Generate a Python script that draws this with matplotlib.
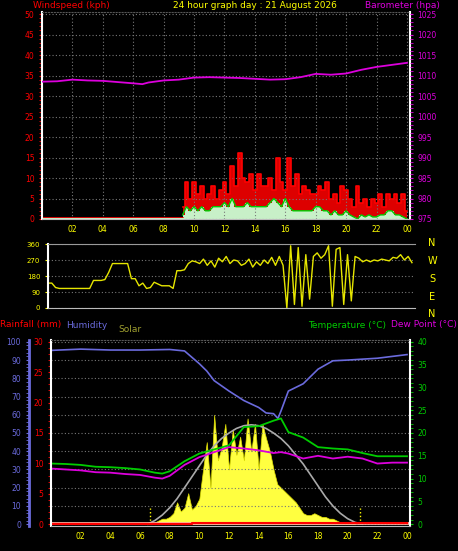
import numpy as np
import matplotlib
matplotlib.use("Agg")
import matplotlib.pyplot as plt
from matplotlib.ticker import MultipleLocator

# ---------------- data ----------------
hour_ticks = [2, 4, 6, 8, 10, 12, 14, 16, 18, 20, 22, 24]
hour_labels = ["02", "04", "06", "08", "10", "12", "14", "16", "18", "20", "22", "00"]

baro_t = [0, 1, 2, 3, 4, 5, 6, 6.6, 7, 8, 9, 10, 11, 12, 13, 14, 15, 16, 17, 18, 19, 20, 21, 22, 23, 24]
baro_v = [1008.5, 1008.6, 1009.0, 1008.8, 1008.7, 1008.4, 1008.1, 1007.9, 1008.3, 1008.8, 1009.0,
          1009.5, 1009.6, 1009.5, 1009.4, 1009.2, 1009.0, 1009.1, 1009.6, 1010.4, 1010.2, 1010.5,
          1011.4, 1012.1, 1012.6, 1013.1]

gust_start = 9.25
wind_gust = [3, 9, 5, 9, 6, 8, 5, 6, 8, 5, 7, 9, 6, 13, 8, 16, 10, 9, 11, 7, 11, 8, 8, 10, 7, 15,
             9, 7, 15, 8, 11, 6, 8, 7, 6, 6, 8, 7, 9, 5, 6, 4, 8, 7, 5, 3, 8, 4, 5, 3, 5, 4, 6, 3,
             6, 5, 6, 4, 6, 2]
wind_avg = [1, 3, 2, 3, 2, 3, 2, 2, 3, 3, 3, 4, 3, 5, 3, 3, 3, 4, 3, 3, 3, 3, 3, 4, 5, 4, 3, 5,
            3, 2, 2, 2, 2, 2, 2, 3, 3, 2, 2, 1, 2, 1, 1, 2, 1, 0.5, 0, 1, 0.5, 1, 0.5, 0.5, 1, 1,
            2, 2, 1, 1, 0.5, 0]

dir_v = [140, 140, 115, 110, 110, 110, 110, 110, 110, 110, 110, 110, 155, 155, 155, 160, 200, 250,
         250, 250, 250, 250, 165, 165, 125, 140, 110, 115, 145, 135, 125, 125, 125, 110, 210, 210,
         215, 250, 265, 260, 250, 275, 240, 265, 230, 280, 260, 290, 250, 270, 265, 240, 250, 275,
         230, 260, 240, 270, 250, 285, 240, 290, 240, 0, 350, 20, 340, 10, 300, 50, 290, 310, 280,
         300, 350, 10, 330, 340, 20, 300, 40, 290, 280, 260, 270, 260, 270, 265, 275, 270, 265,
         285, 280, 300, 270, 290, 255]

hum_t = [0, 2, 4, 6, 8, 9, 10, 10.5, 11, 12, 13, 14, 14.5, 15, 15.3, 15.5, 16, 17, 18, 19, 20, 22, 24]
hum_v = [95.3, 96, 95.5, 95.5, 95.8, 95, 88, 84, 78.7, 73, 67.8, 64, 61, 60.6, 58, 62, 73, 77,
         85, 89.6, 90, 91, 93]

temp_t = [0, 1, 2, 3, 4, 5, 6, 7, 7.5, 8, 9, 10, 11, 12, 13, 14, 15, 15.5, 16, 17, 18, 19, 20, 21, 22, 23, 24]
temp_v = [13.3, 13.2, 13, 12.6, 12.5, 12.3, 12.0, 11.3, 11.1, 11.6, 13.8, 15.5, 16.4, 17.3, 21.3,
          21.5, 22.7, 23.2, 20.2, 19.0, 16.9, 16.6, 16.4, 15.6, 14.9, 14.9, 14.9]
dew_v = [12.2, 12.0, 11.8, 11.4, 11.3, 11.0, 10.8, 10.2, 10.0, 10.6, 13.0, 14.7, 15.8, 16.9, 16.6,
         16.2, 15.6, 15.8, 15.5, 14.4, 15.0, 14.4, 14.8, 14.4, 13.3, 13.5, 13.5]

rain_t = [0, 9.5, 9.5, 24]
rain_v = [0, 0, 0.2, 0.2]

solar_start = 6.5
solar_v = [0, 0, 1, 2, 3, 3, 4, 6, 12, 7, 9, 17, 8, 10, 14, 30, 45, 20, 60, 35, 42, 55, 30, 52,
           38, 48, 35, 58, 40, 55, 30, 55, 47, 40, 30, 22, 20, 18, 16, 14, 12, 9, 6, 5, 5, 6, 5,
           4, 4, 3, 3, 2, 1, 1, 0.5, 0, 0]
clear_t = [6.5, 7, 7.5, 8, 8.5, 9, 9.5, 10, 10.5, 11, 11.5, 12, 12.5, 13, 13.5, 14, 14.5, 15, 15.5,
           16, 16.5, 17, 17.5, 18, 18.5, 19, 19.5, 20, 20.5, 21]
clear_v = [0, 2, 5, 9, 14, 20, 26, 32, 38, 43, 47, 50, 52.5, 54, 54.5, 54, 52.5, 50, 47, 43, 38,
           33, 27, 21, 15, 10, 6, 3, 1, 0]
sunrise, sunset = 6.7, 20.8

# ---------------- styling ----------------
W, H = 458, 551
fig = plt.figure(figsize=(W / 100, H / 100), dpi=100, facecolor="black")
fs = 5.5
tfs = 6.5
RED, MAG, YEL, GRN, BLU = "#ff0000", "#dd00dd", "#ffff00", "#00cc00", "#6b6bdd"


def rect(l, t, r, b):
    return [l / W, 1 - b / H, (r - l) / W, (b - t) / H]


def style(ax):
    ax.set_facecolor("black")
    ax.grid(True, color="#777777", linestyle=(0, (1, 2)), linewidth=0.8)
    for s in ax.spines.values():
        s.set_color("#bbbbbb")
    ax.spines["top"].set_color("#555555")
    ax.spines["top"].set_linestyle(":")


# ---- top panel ----
ax1 = fig.add_axes(rect(42, 12, 410, 219))
style(ax1)
ax1.set_xlim(0, 24.2)
ax1.set_ylim(0, 50.5)
ax1.yaxis.set_major_locator(MultipleLocator(5))
ax1.yaxis.set_minor_locator(MultipleLocator(1))
ax1.set_xticks(hour_ticks)
ax1.set_xticklabels(hour_labels)
ax1.tick_params(axis="x", colors=YEL, labelsize=fs, length=0, pad=4)
ax1.tick_params(axis="y", which="both", colors=RED, labelsize=fs, length=2, direction="out")
ax1.spines["left"].set_color("white")
ax1.spines["left"].set_linewidth(1.5)
ax1.spines["right"].set_color("white")
ax1.spines["right"].set_linewidth(1.5)
gt = gust_start + 0.25 * np.arange(len(wind_gust))
ax1.plot([0, gust_start], [0.3, 0.3], color=RED, lw=1.2)
ax1.fill_between(gt, wind_avg, wind_gust, step="mid", color="#dd0000", lw=0)
ax1.fill_between(gt, 0, wind_avg, step="mid", color="#c8f0c8", lw=0)
ax1.step(gt, wind_gust, where="mid", color=RED, lw=1.2)
ax1.plot(gt, wind_avg, color=GRN, lw=1.0)
ax1.plot([0, gust_start], [0, 0], color="#c8f0c8", lw=1.5)
axb = ax1.twinx()
axb.set_ylim(975, 1025.5)
axb.yaxis.set_major_locator(MultipleLocator(5))
axb.yaxis.set_minor_locator(MultipleLocator(1))
axb.tick_params(axis="y", which="both", colors=MAG, labelsize=fs, length=2)
for s in axb.spines.values():
    s.set_visible(False)
axb.plot(baro_t, baro_v, color=MAG, lw=1.3)

fig.text(33 / W, 1 - 5 / H, "Windspeed (kph)", color=RED, fontsize=tfs, va="center")
fig.text(255 / W, 1 - 5 / H, "24 hour graph day : 21 August 2026", color=YEL, fontsize=tfs,
         va="center", ha="center")
fig.text(440 / W, 1 - 5 / H, "Barometer (hpa)", color=MAG, fontsize=tfs, va="center", ha="right")

# ---- direction panel ----
ax2 = fig.add_axes(rect(48, 244, 415, 308))
style(ax2)
ax2.grid(False)
ax2.yaxis.grid(True, color="#777777", linestyle=(0, (1, 2)), linewidth=0.8)
ax2.set_xlim(0, 24.2)
ax2.set_ylim(0, 360)
ax2.set_yticks([0, 90, 180, 270, 360])
ax2.set_xticks([])
ax2.tick_params(axis="y", colors=YEL, labelsize=5, length=2)
ax2.spines["top"].set_color("#999999")
ax2.spines["top"].set_linestyle("-")
ax2.spines["right"].set_visible(False)
ax2.spines["left"].set_color("white")
ax2.spines["left"].set_linewidth(1.5)
ax2.plot(0.25 * np.arange(len(dir_v)), dir_v, color="#e6e600", lw=1.0)
for lab, yy in zip(["N", "W", "S", "E", "N"], [243, 261, 279, 297, 314]):
    fig.text(432 / W, 1 - yy / H, lab, color=YEL, fontsize=7, ha="center", va="center")

# ---- bottom panel ----
ax3 = fig.add_axes(rect(51, 340, 410, 526))
style(ax3)
ax3.grid(False)
ax3.set_xlim(0, 24.2)
ax3.set_ylim(-0.3, 30.3)
ax3.set_yticks([0, 5, 10, 15, 20, 25, 30])
ax3.yaxis.set_minor_locator(MultipleLocator(1))
ax3.tick_params(axis="y", which="both", colors=RED, labelsize=fs, length=2)
ax3.set_xticks(hour_ticks)
ax3.set_xticklabels(hour_labels)
ax3.tick_params(axis="x", colors=YEL, labelsize=fs, length=0, pad=4)
ax3.spines["left"].set_color("white")
ax3.spines["left"].set_linewidth(1.5)
ax3.spines["right"].set_color("white")
ax3.spines["right"].set_linewidth(1.5)

axh = ax3.twinx()
axh.set_ylim(-1, 101)
axh.yaxis.set_ticks_position("left")
axh.spines["left"].set_position(("outward", 16))
axh.spines["left"].set_color(BLU)
axh.spines["left"].set_linewidth(2)
for k in ["right", "top", "bottom"]:
    axh.spines[k].set_visible(False)
axh.set_yticks(range(0, 101, 10))
axh.yaxis.set_minor_locator(MultipleLocator(2))
axh.tick_params(axis="y", which="both", colors=BLU, labelsize=fs, length=2)
axh.grid(True, axis="y", color="#777777", linestyle=(0, (1, 2)), linewidth=0.8)
axh.set_xticks(hour_ticks)
axh.xaxis.grid(True, color="#777777", linestyle=(0, (1, 2)), linewidth=0.8)
st = solar_start + 0.25 * np.arange(len(solar_v))
axh.fill_between(st, 0, solar_v, color="#ffff40", lw=0.5, edgecolor="#dddd00")
axh.plot(clear_t, clear_v, color="#aaaaaa", lw=1.2)
axh.vlines([sunrise, sunset], 0, 9, color=YEL, linestyles=":", lw=1)
axh.plot(hum_t, hum_v, color=BLU, lw=1.2)
axh.plot([0, 24.2], [0.5, 0.5], color="#ffb0a0", lw=2)

axt = ax3.twinx()
axt.set_ylim(-0.4, 40.4)
axt.yaxis.set_major_locator(MultipleLocator(5))
axt.yaxis.set_minor_locator(MultipleLocator(1))
axt.tick_params(axis="y", which="both", colors=GRN, labelsize=fs, length=2)
for s in axt.spines.values():
    s.set_visible(False)
axt.plot(temp_t, temp_v, color=GRN, lw=1.3)
axt.plot(temp_t, dew_v, color=MAG, lw=1.3)
axh.set_zorder(0)
axt.set_zorder(1)
ax3.set_zorder(2)
ax3.patch.set_visible(False)
axt.patch.set_visible(False)
ax3.plot(rain_t, rain_v, color=RED, lw=1.5)
axh.patch.set_facecolor("black")

fig.text(0 / W, 1 - 325 / H, "Rainfall (mm)", color=RED, fontsize=tfs, va="center")
fig.text(66 / W, 1 - 325 / H, "Humidity", color=BLU, fontsize=tfs, va="center")
fig.text(118 / W, 1 - 330 / H, "Solar", color="#a0a030", fontsize=tfs, va="center")
fig.text(308 / W, 1 - 325 / H, "Temperature (°C)", color=GRN, fontsize=tfs, va="center")
fig.text(457 / W, 1 - 325 / H, "Dew Point (°C)", color=MAG, fontsize=tfs, va="center", ha="right")

fig.savefig("out.png", dpi=100, facecolor="black")
